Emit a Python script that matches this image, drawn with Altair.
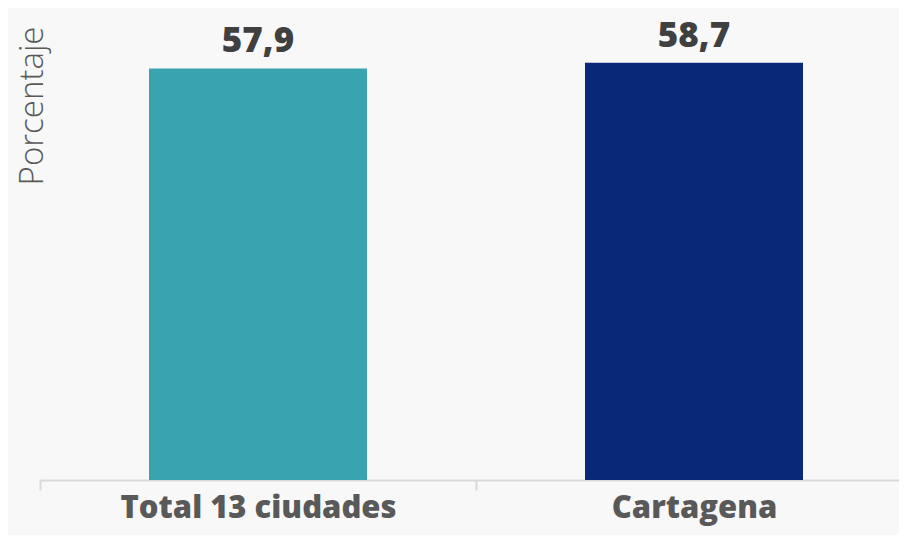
import altair as alt
import pandas as pd

categories = ["Total 13 ciudades", "Cartagena"]
values = [57.9, 58.7]
labels = ["57,9", "58,7"]
colors = ["#3aa3b0", "#0a2878"]

df = pd.DataFrame({"cat": categories, "val": values, "lab": labels})

FONT = "Open Sans"

x = alt.X("cat:N", sort=categories, title=None,
          scale=alt.Scale(paddingInner=0, paddingOuter=0, range=[0, 872]),
          axis=alt.Axis(labelAngle=0, tickBand="extent", domainColor="#d9d9d9",
                        domainWidth=2, tickColor="#d9d9d9", tickWidth=2, tickSize=10,
                        labelFont=FONT, labelFontWeight=800, labelFontSize=31,
                        labelColor="#595959", labelPadding=3, labelLimit=0))

bars = alt.Chart(df).mark_bar(width={"band": 0.5}).encode(
    x=x,
    y=alt.Y("val:Q", scale=alt.Scale(domain=[0, 65], nice=False),
            axis=alt.Axis(title="Porcentaje", domain=False, ticks=False, labels=False,
                          grid=False, titleFont=FONT, titleFontWeight=300,
                          titleFontSize=33, titleColor="#595959", titleAngle=270,
                          titleAlign="right", titleBaseline="alphabetic",
                          titleX=2, titleY=8, titleLimit=0)),
    color=alt.Color("cat:N", sort=categories,
                    scale=alt.Scale(domain=categories, range=colors), legend=None),
)

text = alt.Chart(df).mark_text(font=FONT, fontWeight=800, fontSize=35,
                               color="#404040", baseline="alphabetic", dy=-16).encode(
    x=alt.X("cat:N", sort=categories),
    y="val:Q",
    text="lab:N",
)

chart = (bars + text).properties(
    width=859, height=462,
    background="#f8f8f8",
    padding={"left": 32, "top": 10, "right": 0, "bottom": 55},
    autosize=alt.AutoSizeParams(type="none"),
).configure_view(stroke=None)

chart.save("out.html", embed_options={"renderer": "svg", "actions": False})
